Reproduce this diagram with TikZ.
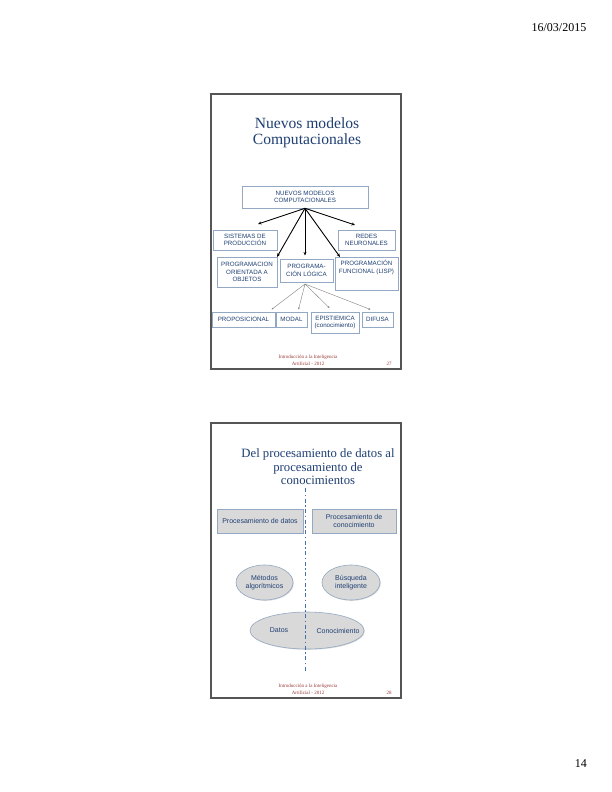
\documentclass[tikz,border=0pt]{standalone}
\usepackage{fontspec}
\setmainfont{Liberation Serif}
\setsansfont{Liberation Sans}
\usetikzlibrary{arrows.meta,shapes.geometric,shadows}
\definecolor{tblue}{HTML}{1F3F73}
\definecolor{boxb}{HTML}{93A8C2}
\definecolor{fred}{HTML}{9A3A3A}
\definecolor{dline}{HTML}{4A6FA3}
\definecolor{sfill}{HTML}{D9D9D9}
\definecolor{frm}{HTML}{555555}
\begin{document}
\begin{tikzpicture}[x=1pt,y=-1pt,
  frame/.style={draw=frm,line width=1.1pt},
  box/.style={draw=boxb,line width=0.6pt,fill=white,inner sep=0pt,align=center,text=tblue,
    font=\fontsize{6.2}{7.6}\selectfont\sffamily,
    drop shadow={shadow xshift=0.8pt,shadow yshift=-0.8pt,opacity=0.35}},
  boxtxt/.style={inner sep=0pt,align=center,text=tblue,font=\fontsize{6.2}{7.6}\selectfont\sffamily},
  gbox/.style={draw=boxb,line width=0.6pt,fill=sfill,inner sep=0pt,align=center,text=tblue,
    font=\fontsize{7}{8.4}\selectfont\sffamily,
    drop shadow={shadow xshift=0.8pt,shadow yshift=-0.8pt,opacity=0.3}},
  gell/.style={gbox,ellipse},
  gtxt/.style={inner sep=0pt,align=center,text=tblue,font=\fontsize{7}{8.4}\selectfont\sffamily},
  title/.style={inner sep=0pt,anchor=base,text=tblue},
  footer/.style={inner sep=0pt,align=center,text=fred,font=\fontsize{5}{6.6}\selectfont},
  pnum/.style={inner sep=0pt,text=fred,font=\fontsize{5}{6}\selectfont},
  barrow/.style={line width=0.9pt,-{Stealth[length=3.6pt,width=3pt]}},
  garrow/.style={line width=0.4pt,draw=gray,-{Stealth[length=2.2pt,width=1.8pt]}},
  dashdot/.style={draw=dline,line width=1.5pt,dash pattern=on 4pt off 2.5pt on 1.5pt off 2.5pt}
]
\useasboundingbox (0,0) rectangle (612,792);
\fill[white] (0,0) rectangle (612,792);

% page header / footer
\node[inner sep=0pt,anchor=base east,font=\fontsize{12}{14}\selectfont] (date) at (586.5,32) {16/03/2015};
\node[inner sep=0pt,anchor=base east,font=\fontsize{12}{14}\selectfont] (page) at (587,767) {14};

% ---------------- slide 27 ----------------
\draw[frame] (211,94) rectangle (401,369);
\node[title,font=\fontsize{15.6}{17}\selectfont] (t1a) at (307,128) {Nuevos modelos};
\node[title,font=\fontsize{15.6}{17}\selectfont] (t1b) at (307,144) {Computacionales};

\node[box,minimum width=126pt,minimum height=22pt] (nuevos) at (305,197) {NUEVOS MODELOS\\COMPUTACIONALES};
\node[box,minimum width=64pt,minimum height=20pt] (sistemas) at (245,240) {SISTEMAS DE\\PRODUCCIÓN};
\node[box,minimum width=57pt,minimum height=20pt] (redes) at (366.5,240) {REDES\\NEURONALES};
\node[box,minimum width=60pt,minimum height=30pt] (objetos) at (247,272) {PROGRAMACION\\ORIENTADA A\\OBJETOS};
\node[box,minimum width=53pt,minimum height=23pt] (logica) at (306.5,270.5) {PROGRAMA-\\CIÓN LÓGICA};
\node[box,minimum width=63pt,minimum height=33pt] (funcional) at (366.5,273.5) {};
\node[boxtxt] (funcionaltxt) at (366.5,267.5) {PROGRAMACIÓN\\FUNCIONAL (LISP)};

\node[box,minimum width=63pt,minimum height=15pt] (prop) at (243.5,319.5) {PROPOSICIONAL};
\node[box,minimum width=31pt,minimum height=15pt] (modal) at (291.5,319.5) {MODAL};
\node[box,minimum width=48pt,minimum height=21pt] (epis) at (335,322.5) {EPISTIEMICA\\(conocimiento)};
\node[box,minimum width=31pt,minimum height=15pt] (difusa) at (377.5,319.5) {DIFUSA};

\coordinate (k1) at (258,224);
\coordinate (k2) at (277,257);
\coordinate (k3) at (305,255.5);
\coordinate (k4) at (340,257);
\coordinate (k5) at (355,225);
\foreach \k in {k1,k2,k3,k4,k5} \draw[barrow] (nuevos.south) -- (\k);

\coordinate (lo) at (305,284);
\coordinate (g1) at (271.5,309.5);
\coordinate (g2) at (298.5,309.5);
\coordinate (g3) at (329.5,308);
\coordinate (g4) at (370.5,309.5);
\foreach \g in {g1,g2,g3,g4} \draw[garrow] (lo) -- (\g);

\node[footer] (f27) at (308,360.5) {Introducción a la Inteligencia\\Artificial - 2012};
\node[pnum] (p27) at (389,364) {27};

% ---------------- slide 28 ----------------
\draw[frame] (211,423) rectangle (401,698);
\node[title,font=\fontsize{12.7}{14}\selectfont] (t2a) at (318,457.5) {Del procesamiento de datos al};
\node[title,font=\fontsize{12.7}{14}\selectfont] (t2b) at (318,471) {procesamiento de};
\node[title,font=\fontsize{12.7}{14}\selectfont] (t2c) at (318,484) {conocimientos};

\node[gbox,minimum width=86pt,minimum height=24pt] (pdatos) at (260,521) {Procesamiento de datos};
\node[gbox,minimum width=84pt,minimum height=24pt] (pconoc) at (354,521) {Procesamiento de\\conocimiento};

\node[gell,minimum width=57pt,minimum height=35pt] (metodos) at (264.5,582.5) {Métodos\\algorítmicos};
\node[gell,minimum width=58pt,minimum height=35pt] (busqueda) at (351,582.5) {Búsqueda\\inteligente};
\node[gell,minimum width=114pt,minimum height=37pt] (big) at (307,630.5) {};
\node[gtxt] (datos) at (279,630.5) {Datos};
\node[gtxt] (conoc) at (338,630.5) {Conocimiento};

\coordinate (dtop) at (305.7,488);
\coordinate (dbot) at (305.7,672);
\draw[dashdot] (dtop) -- (dbot);

\node[footer] (f28) at (308,689.5) {Introducción a la Inteligencia\\Artificial - 2012};
\node[pnum] (p28) at (389,693) {28};
\end{tikzpicture}
\end{document}
